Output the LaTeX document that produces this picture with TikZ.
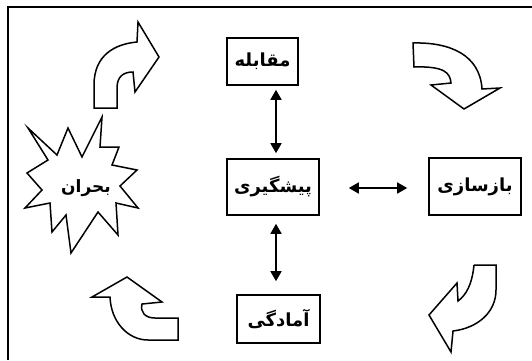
\documentclass[tikz,border=0pt]{standalone}
\usepackage{fontspec}
\usetikzlibrary{arrows.meta}
\TeXXeTstate=1
\newfontfamily\fa[Script=Arabic]{DejaVu Sans}
\tikzset{
  box/.style={draw, line width=1.6pt, rectangle, inner sep=0pt, font=\fa\bfseries\fontsize{18}{20}\selectfont},
  dbl/.style={line width=1.6pt, {Triangle[length=10pt,width=11pt]}-{Triangle[length=10pt,width=11pt]}},
  blk/.style={draw, line width=1.5pt, line join=miter, fill=white},
  lbl/.style={font=\fa\bfseries\fontsize{17}{19}\selectfont, inner sep=0pt}
}
\begin{document}
\begin{tikzpicture}[x=1pt,y=-1pt]
\useasboundingbox (0,0) rectangle (532,360);
\draw[line width=1.6pt] (8,360) -- (8,7) -- (532,7);

\node[box, minimum width=71pt, minimum height=47pt] (mq) at (262.5,61.5) {\beginR مقابله\endR};
\node[box, minimum width=92pt, minimum height=56pt] (pg) at (273,187) {\beginR پیشگیری\endR};
\node[box, minimum width=92pt, minimum height=57pt] (bz) at (475,186.5) {\beginR بازسازی\endR};
\node[box, minimum width=83pt, minimum height=48pt] (am) at (278.5,319) {\beginR آمادگی\endR};

\draw[dbl, shorten <=5pt, shorten >=4pt] ([xshift=3pt]pg.north) -- ([xshift=3pt]pg.north |- mq.south);
\draw[dbl, shorten <=8pt, shorten >=13pt] ([xshift=3pt]pg.south) -- ([xshift=3pt]pg.south |- am.north);
\draw[dbl, shorten <=29pt, shorten >=21pt] ([yshift=-1pt]pg.east) -- ([yshift=-1pt]pg.east -| bz.west);

% star
\draw[blk] (28,128) -- (57,155) -- (68,128) -- (82,157) -- (102,117) -- (100,147) -- (119,147)
  -- (112,165) -- (137,170) -- (120,186) -- (138,208) -- (116,203) -- (118,235) -- (98,212)
  -- (71,253) -- (66,215) -- (52,232) -- (50,203) -- (25,208) -- (42,190) -- (27,173)
  -- (48,160) -- cycle;
\node[lbl] (bh) at (86,188) {\beginR بحران\endR};

% curved block arrows
\draw[blk] (94,108) -- (94,85) .. controls (94,55) and (115,44) .. (137,42) -- (138,22) -- (159,57)
  -- (135,92) -- (133,72) .. controls (124,72) and (117,76) .. (117,88) -- (117,108) -- cycle;
\draw[blk] (413,43) .. controls (450,42) and (480,55) .. (482,89) -- (500,88) -- (464,109)
  -- (431,85) -- (451,83) .. controls (450,73) and (445,66) .. (414,67) -- cycle;
\draw[blk] (474,265) -- (496,265) -- (496,290) .. controls (496,312) and (478,328) .. (453,331)
  -- (451,352) -- (429,315) -- (457,283) -- (458,301) .. controls (466,295) and (472,285) .. (474,265);
\draw[blk] (178,318) -- (178,340) -- (148,340) .. controls (128,340) and (111,322) .. (110,297)
  -- (92,297) -- (127,277) -- (162,302) -- (142,304) .. controls (140,312) and (145,318) .. (155,318) -- cycle;
\end{tikzpicture}
\end{document}
